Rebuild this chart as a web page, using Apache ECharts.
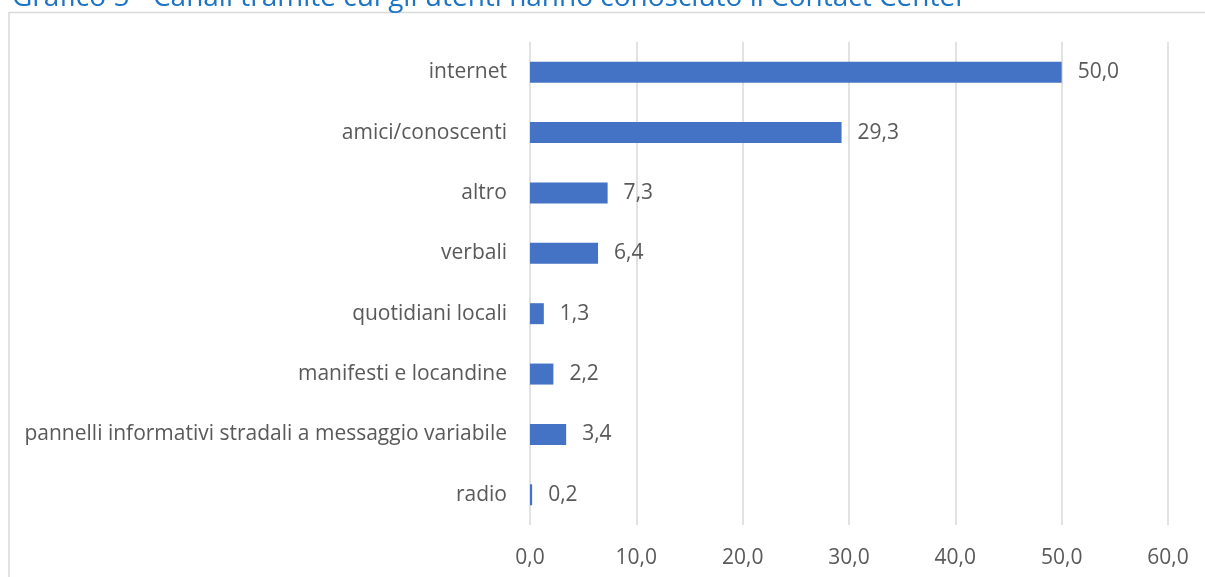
<!DOCTYPE html>
<html>
<head>
<meta charset="utf-8">
<script src="https://cdn.jsdelivr.net/npm/echarts@6/dist/echarts.min.js"></script>
<style>
  html, body { margin: 0; padding: 0; background: #ffffff; }
  #chart { width: 1205px; height: 577px; }
</style>
</head>
<body>
<div id="chart"></div>
<script>
// Canali tramite cui gli utenti hanno conosciuto il Contact Center (valori %)
const categories = [
  'internet',
  'amici/conoscenti',
  'altro',
  'verbali',
  'quotidiani locali',
  'manifesti e locandine',
  'pannelli informativi stradali a messaggio variabile',
  'radio'
];
const values = [50.0, 29.3, 7.3, 6.4, 1.3, 2.2, 3.4, 0.2];
const xTicks = { min: 0, max: 60, interval: 10 };
const titleText = 'Grafico 5 - Canali tramite cui gli utenti hanno conosciuto il Contact Center';

const FONT = '"Open Sans", "Noto Sans", sans-serif';
const TEXT_COLOR = '#595959';
const fmt = v => v.toFixed(1).replace('.', ',');

const chart = echarts.init(document.getElementById('chart'), null, { renderer: 'canvas' });
chart.setOption({
  animation: false,
  backgroundColor: '#ffffff',
  textStyle: { fontFamily: FONT },
  graphic: [
    {
      type: 'rect',
      shape: { x: 9, y: 12.5, width: 1220, height: 620 },
      style: { fill: 'none', stroke: '#D9D9D9', lineWidth: 1.5 },
      silent: true,
      z: -10
    },
    {
      type: 'text',
      x: 12,
      y: -2,
      style: {
        text: titleText,
        fill: '#1C74C2',
        font: '28px ' + FONT,
        verticalAlign: 'middle',
        align: 'left'
      },
      silent: true
    }
  ],
  grid: { left: 530, right: 37, top: 42, bottom: 52, containLabel: false },
  xAxis: {
    type: 'value',
    min: xTicks.min,
    max: xTicks.max,
    interval: xTicks.interval,
    axisLine: { show: false },
    axisTick: { show: false },
    splitLine: { show: true, lineStyle: { color: '#D9D9D9', width: 1.5 } },
    axisLabel: {
      color: TEXT_COLOR,
      fontSize: 21,
      fontFamily: FONT,
      margin: 23,
      formatter: v => fmt(v)
    }
  },
  yAxis: {
    type: 'category',
    data: categories,
    inverse: true,
    axisLine: { show: false },
    axisTick: { show: false },
    axisLabel: {
      color: TEXT_COLOR,
      fontSize: 21,
      fontFamily: FONT,
      margin: 23
    }
  },
  series: [{
    type: 'bar',
    data: values,
    barWidth: 21,
    itemStyle: { color: '#4472C4' },
    label: {
      show: true,
      position: 'right',
      distance: 16,
      color: TEXT_COLOR,
      fontSize: 21,
      fontFamily: FONT,
      formatter: p => fmt(p.value)
    }
  }]
});
</script>
</body>
</html>
